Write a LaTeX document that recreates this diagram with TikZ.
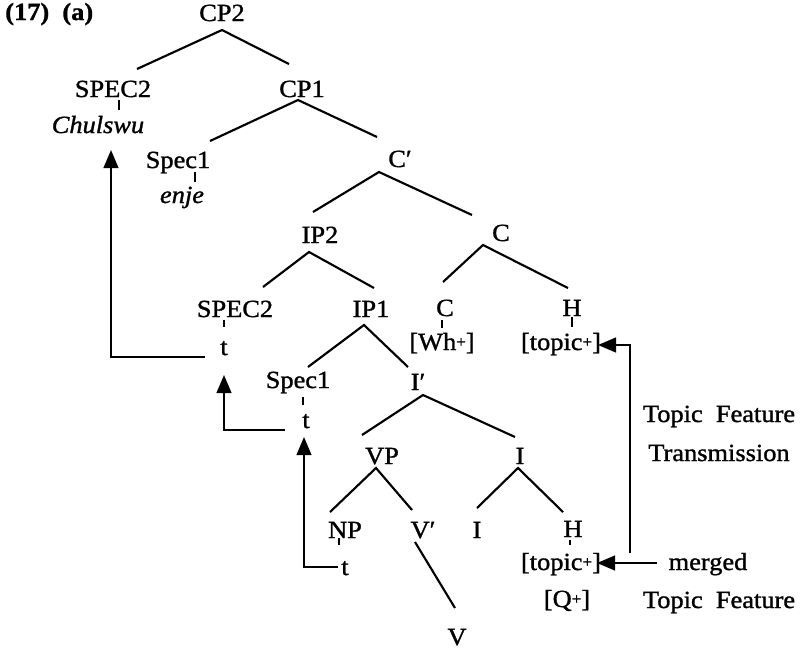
\documentclass[tikz,border=0pt]{standalone}
\usepackage{fontspec}
\setmainfont{Liberation Serif}[FakeStretch=1.07,FakeBold=1.2]
\usetikzlibrary{calc,arrows.meta}
\newcommand{\plus}{\raisebox{0.25ex}{\fontsize{12}{12}\selectfont +}}
\begin{document}
\begin{tikzpicture}[x=0.75pt,y=-0.75pt,
  lbl/.style={anchor=base,inner sep=0pt,font=\fontsize{18.5}{22}\selectfont},
  branch/.style={line width=1.6pt},
  tick/.style={line width=0.9pt},
  move/.style={line width=1.6pt,-{Triangle[length=13.5pt,width=11pt]}}]
\useasboundingbox (0,0) rectangle (803,651);

% labels and tree nodes
\node[lbl,anchor=base west,font=\fontsize{18.5}{22}\selectfont\bfseries] (num) at (5,20) {(17)\ \ (a)};
\node[lbl] (cp2)    at (222,21)  {CP2};
\node[lbl] (spec2a) at (113,97)  {SPEC2};
\node[lbl] (chul)   at (98,133)  {\itshape Chulswu};
\node[lbl] (cp1)    at (302,97)  {CP1};
\node[lbl] (spec1a) at (178,168) {Spec1};
\node[lbl] (enje)   at (182,203) {\itshape enje};
\node[lbl] (cbar)   at (400,167) {C′};
\node[lbl] (ip2)    at (320,243) {IP2};
\node[lbl] (cC)     at (501,241) {C};
\node[lbl] (spec2b) at (235,317) {SPEC2};
\node[lbl] (ip1)    at (371,317) {IP1};
\node[lbl] (cwh)    at (445,316) {C};
\node[lbl] (wh)     at (442,350) {[Wh\plus]};
\node[lbl] (hU)     at (572,316) {H};
\node[lbl] (topU)   at (561,350) {[topic\plus]};
\node[lbl] (t1)     at (224,355) {t};
\node[lbl] (spec1b) at (298,388) {Spec1};
\node[lbl] (ibar)   at (418,390) {I′};
\node[lbl] (t2)     at (306,428) {t};
\node[lbl] (vp)     at (382,464) {VP};
\node[lbl] (iU)     at (520,464) {I};
\node[lbl] (np)     at (345,538) {NP};
\node[lbl] (vbar)   at (423,538) {V′};
\node[lbl] (iL)     at (477,538) {I};
\node[lbl] (hL)     at (573,537) {H};
\node[lbl] (t3)     at (345,575) {t};
\node[lbl] (topL)   at (561,570) {[topic\plus]};
\node[lbl] (q)      at (567,607) {[Q\plus]};
\node[lbl] (v)      at (457,645) {V};
\node[lbl] (tft1)   at (719,422) {Topic\ \ Feature};
\node[lbl] (tft2)   at (719,461) {Transmission};
\node[lbl] (merged) at (708,570) {merged};
\node[lbl] (tf)     at (719,608) {Topic\ \ Feature};

% branches
\draw[branch] ($(spec2a.base)+(24,-28)$) -- ($(cp2.base)+(0,9)$) -- ($(cp1.base)+(-13,-33)$);
\draw[branch] ($(spec1a.base)+(32,-27)$) -- ($(cp1.base)+(-4,3)$) -- ($(cbar.base)+(-23,-30)$);
\draw[branch] ($(ip2.base)+(-7,-31)$) -- ($(cbar.base)+(-21,5)$) -- ($(cC.base)+(-29,-26)$);
\draw[branch] ($(spec2b.base)+(28,-30)$) -- ($(ip2.base)+(-11,9)$) -- ($(ip1.base)+(3,-29)$);
\draw[branch] ($(cwh.base)+(-2,-34)$) -- ($(cC.base)+(-18,4)$) -- ($(hU.base)+(-4,-28)$);
\draw[branch] ($(spec1b.base)+(10,-21)$) -- ($(ip1.base)+(-7,8)$) -- ($(ibar.base)+(-10,-23)$);
\draw[branch] ($(vp.base)+(-20,-29)$) -- ($(ibar.base)+(5,5)$) -- ($(iU.base)+(-5,-27)$);
\draw[branch] ($(np.base)+(-15,-26)$) -- ($(vp.base)+(-6,4)$) -- ($(vbar.base)+(-11,-28)$);
\draw[branch] ($(vbar.base)+(-8,4)$) -- ($(v.base)+(-2,-37)$);
\draw[branch] ($(iL.base)+(0,-30)$) -- ($(iU.base)+(-2,4)$) -- ($(hL.base)+(-10,-25)$);

% short links to contents
\draw[tick] ($(spec2a.base)+(6,3)$) -- ($(chul.base)+(21,-23)$);
\draw[tick] ($(spec1a.base)+(17,4)$) -- ($(enje.base)+(13,-21)$);
\draw[tick] ($(spec2b.base)+(-11,3)$) -- ($(t1.base)+(0,-28)$);
\draw[tick] ($(cwh.base)+(-3,4)$) -- ($(wh.base)+(0,-22)$);
\draw[tick] ($(hU.base)+(0,1)$) -- ($(topU.base)+(11,-23)$);
\draw[tick] ($(spec1b.base)+(5,9)$) -- ($(t2.base)+(-3,-23)$);
\draw[tick] ($(np.base)+(-6,0)$) -- ($(t3.base)+(-6,-30)$);
\draw[tick] ($(hL.base)+(-3,3)$) -- ($(topL.base)+(9,-25)$);

% movement arrows
\draw[move] ($(t1.base)+(-19,2)$) -| ($(chul.base)+(13,17)$);
\draw[move] ($(t2.base)+(-21,2)$) -| ($(t1.base)+(0,20)$);
\draw[move] ($(t3.base)+(-7,-8)$) -| ($(t2.base)+(-2,9)$);
\draw[move] ($(merged.base)+(-51,-7)$) -- ($(topL.base)+(36,-7)$);
\coordinate (tstart) at ($(topL.base)+(69,-17)$);
\draw[move] (tstart) |- ($(topU.base)+(37,-5)$);
\end{tikzpicture}
\end{document}
